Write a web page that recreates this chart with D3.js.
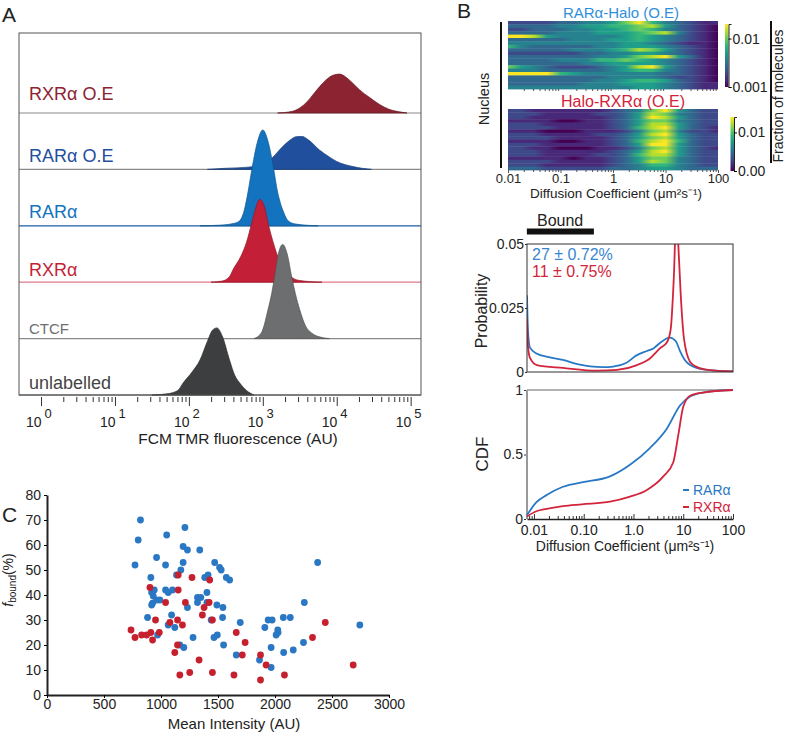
<!DOCTYPE html>
<html>
<head>
<meta charset="utf-8">
<script src="https://cdn.jsdelivr.net/npm/d3@7"></script>
<style>
  body { margin: 0; background: #fff; }
  svg { font-family: "Liberation Sans", Arial, Helvetica, sans-serif; }
</style>
</head>
<body>
<div id="chart"></div>
<script>
// ---------- Panel A: FCM histograms, points are [log10(AU), height in band units]
const fcmNames = ["RXRα O.E", "RARα O.E", "RARα", "RXRα", "CTCF", "unlabelled"];
const fcmFill = ["#8c2331", "#1f4f9d", "#1473be", "#c31f36", "#6c6e6f", "#3c3e3f"];
const fcmLine = ["#8a8a8a", "#8a8a8a", "#1a5ea8", "#e07a88", "#8a8a8a", "#555"];
const fcmLabelSize = [18, 18, 18, 18, 15, 18];
const rxrOE = [[3.2,0],[3.4,0.03],[3.5,0.09],[3.6,0.2],[3.7,0.36],[3.77,0.47],[3.85,0.58],[3.95,0.67],[4.04,0.69],[4.12,0.64],[4.2,0.55],[4.31,0.41],[4.45,0.27],[4.58,0.15],[4.7,0.07],[4.85,0.02],[4.95,0]];
const rarOE = [[2.25,0],[2.5,0.02],[2.8,0.04],[3.0,0.08],[3.14,0.22],[3.25,0.38],[3.37,0.52],[3.45,0.58],[3.53,0.585],[3.62,0.52],[3.77,0.34],[3.9,0.22],[4.0,0.14],[4.22,0.05],[4.47,0]];
const rar = [[2.15,0],[2.4,0.01],[2.6,0.04],[2.68,0.08],[2.75,0.28],[2.8,0.6],[2.86,1.06],[2.93,1.5],[3.0,1.7],[3.07,1.5],[3.14,1.06],[3.2,0.6],[3.27,0.28],[3.35,0.08],[3.45,0.03],[3.75,0]];
const rxr = [[2.3,0],[2.45,0.02],[2.55,0.1],[2.6,0.23],[2.7,0.45],[2.78,0.71],[2.85,1.05],[2.9,1.3],[2.96,1.47],[3.02,1.35],[3.08,1.0],[3.14,0.71],[3.22,0.4],[3.3,0.23],[3.4,0.08],[3.5,0.03],[3.8,0]];
const ctcf = [[2.88,0],[2.98,0.1],[3.07,0.51],[3.12,0.8],[3.16,1.1],[3.21,1.5],[3.27,1.67],[3.33,1.5],[3.39,1.1],[3.44,0.8],[3.5,0.51],[3.58,0.22],[3.66,0.1],[3.8,0.02],[3.9,0]];
const unlabelled = [[1.5,0],[1.7,0.02],[1.85,0.08],[1.92,0.21],[2.05,0.42],[2.15,0.62],[2.25,0.95],[2.32,1.15],[2.38,1.19],[2.45,1.05],[2.55,0.62],[2.62,0.35],[2.69,0.21],[2.78,0.08],[2.88,0]];
const fcmSeries = [rxrOE, rarOE, rar, rxr, ctcf, unlabelled];
const fcmDecades = [0, 1, 2, 3, 4, 5];

// ---------- Panel B: heatmaps (colour level 0-9 at each log10 D column)
const heatLogD = [-2,-1.75,-1.5,-1.25,-1,-0.75,-0.5,-0.25,0,0.25,0.5,0.75,1,1.25,1.5,1.75,2];
const heatRAR = [
  [2,2,2,2,3,3,4,4,5,7,9,6,4,3,2,1,1],
  [3,3,3,3,4,4,5,5,6,6,7,8,5,3,2,1,0],
  [2,2,3,3,3,4,4,5,5,6,7,6,4,3,2,1,0],
  [3,3,3,3,4,4,4,5,5,5,6,7,8,4,2,1,0],
  [9,9,8,5,4,4,4,4,4,5,6,5,4,3,2,1,0],
  [3,3,3,3,3,4,4,4,5,5,6,5,4,3,2,1,0],
  [4,4,4,4,4,4,4,4,4,5,5,4,3,2,1,1,0],
  [6,4,3,3,3,3,3,4,4,5,5,5,4,3,2,1,0],
  [3,3,3,3,3,4,4,4,5,6,8,7,5,3,2,1,0],
  [2,2,2,2,2,2,3,3,4,4,5,5,4,3,2,1,0],
  [3,3,3,3,3,3,3,4,4,5,7,8,9,5,3,1,0],
  [3,3,3,3,4,4,4,6,6,7,6,5,4,3,2,1,0],
  [3,3,3,3,3,3,4,4,5,5,5,5,4,3,2,1,0],
  [7,5,4,3,2,2,2,3,4,5,8,9,5,3,2,1,0],
  [4,4,4,3,3,3,3,3,4,5,6,6,4,3,2,1,0],
  [9,9,9,9,6,5,4,4,4,4,4,4,3,3,2,1,0],
  [3,3,3,3,3,3,3,3,4,4,4,4,3,2,2,1,0],
  [3,3,3,3,3,3,3,4,4,5,6,6,5,3,2,1,0],
  [3,3,3,3,3,3,4,4,4,5,5,5,4,3,2,1,1],
  [4,4,4,4,4,4,4,4,4,4,5,5,4,3,2,1,1]
];
const heatRXR = [
  [2,2,1,1,1,1,1,1,2,3,4,7,9,5,3,2,2],
  [2,2,2,1,1,1,1,2,2,3,5,8,7,4,3,2,2],
  [2,2,1,1,1,1,1,1,2,3,5,9,8,5,3,2,2],
  [1,1,1,1,0,0,1,1,2,3,5,7,7,4,3,2,2],
  [2,2,2,1,1,1,1,1,2,3,5,8,8,5,3,2,2],
  [2,2,2,2,1,1,1,1,2,3,6,8,9,5,3,2,1],
  [1,1,1,0,0,0,1,1,1,2,4,7,8,4,2,2,1],
  [2,2,2,1,1,1,1,2,2,3,5,8,9,5,3,2,2],
  [2,2,2,2,1,1,1,1,2,3,5,7,8,5,3,2,2],
  [1,1,1,1,0,0,1,1,2,3,6,8,9,6,3,2,2],
  [2,2,2,1,1,1,1,1,2,3,5,9,9,5,3,2,2],
  [2,2,1,1,0,0,0,1,1,2,4,7,8,5,3,2,1],
  [2,2,2,1,1,1,1,1,2,3,5,8,9,5,3,2,2],
  [2,2,2,1,1,1,1,2,2,3,6,8,8,5,3,2,2],
  [1,1,1,1,1,0,1,1,2,3,5,7,7,4,3,2,2],
  [2,2,2,2,1,1,1,1,2,3,5,8,7,4,3,2,2],
  [2,2,2,1,1,1,1,1,2,3,4,6,6,4,3,2,2],
  [3,3,3,2,2,2,2,2,3,3,4,5,5,4,3,3,3]
];
const heatTicks = [0.01, 0.1, 1, 10, 100];

// ---------- Panel B: probability and CDF, points are [log10 D, value]
const probRAR = [[-2.14,0.030],[-2.12,0.016],[-2.08,0.0095],[-1.95,0.0072],[-1.7,0.0058],[-1.42,0.0047],[-1.1,0.003],[-0.87,0.0022],[-0.6,0.0019],[-0.41,0.0021],[-0.15,0.0035],[0.06,0.0065],[0.27,0.0082],[0.4,0.0092],[0.53,0.0113],[0.73,0.0134],[0.85,0.012],[0.94,0.008],[1.04,0.0045],[1.14,0.0027],[1.4,0.001],[2,0.0002]];
const probRXR = [[-2.14,0.021],[-2.12,0.01],[-2.08,0.0055],[-1.94,0.0027],[-1.42,0.0016],[-0.73,0.0005],[-0.33,0.0008],[0.07,0.0027],[0.33,0.0053],[0.53,0.0092],[0.68,0.0118],[0.75,0.017],[0.81,0.0366],[0.868,0.065],[0.9,0.05],[0.95,0.03],[1.015,0.013],[1.136,0.004],[1.27,0.002],[1.5,0.0008],[2,0.0002]];
const cdfRAR = [[-2.14,0.03],[-1.95,0.13],[-1.744,0.186],[-1.417,0.25],[-1.04,0.284],[-0.472,0.33],[-0.07,0.42],[0.33,0.55],[0.67,0.70],[0.935,0.88],[1.136,0.95],[1.47,0.985],[2,1.0]];
const cdfRXR = [[-2.14,0.02],[-1.95,0.06],[-1.744,0.078],[-1.417,0.10],[-1.04,0.114],[-0.472,0.134],[-0.07,0.173],[0.27,0.225],[0.6,0.33],[0.8,0.44],[0.9,0.65],[1.0,0.87],[1.14,0.955],[1.4,0.98],[2,1.0]];
const boundRange = [0.0072, 0.16];
const cdfTicks = [0.01, 0.1, 1, 10, 100];
const cdfTickLabels = ["0.01", "0.10", "1.0", "10", "100"];

// ---------- Panel C: scatter (mean intensity AU, f_bound %)
const rarIntensity = [820,800,1210,1050,1194,1232,1340,772,961,1040,1194,1174,1471,1514,1528,2374,1136,1384,1413,1573,1602,911,918,941,1040,1063,1101,1403,932,961,926,918,990,1232,1320,1349,1320,1403,1490,1543,2257,882,1093,1063,1121,1440,1540,1695,1940,1975,2073,2134,1911,2024,2027,2010,2744,970,1281,1465,1494,1165,1200,1549,2250,1966,2076,2160,1660,1864,1966];
const rarBound =     [70,62,67,64,59.4,58,58,52,55,52,53,50,53,51,50,53,48,47,48,47,46,47,41,42,42,41,42,41,39.6,38,36.7,36,38,35,39,39,37,37,36,35,37,31,32,28,27,30,31,29,30,30,31,31,27,26,25,24,28,24,23,23,24,20,19,20,21,19,17,18,16,14,11];
const rxrIntensity = [1151,1272,1427,903,1151,1040,1214,1378,1422,952,1078,1145,1188,1363,1451,2441,737,772,830,874,911,926,985,1145,1121,1660,1738,2329,1713,1873,1922,1334,1165,1252,1451,1640,1873,2083,2686];
const rxrBound =     [48,47,46,43,42,37,37,35,37,30,29,30,28,32,30,29,26,23,24,24,25,22,25,20,17,25,21,23,16,16,12,14,8,9,9,8,6,8,12];

// ---------- setup
const W = 785, H = 733;
const svg = d3.select("#chart").append("svg").attr("width", W).attr("height", H);
const defs = svg.append("defs");
const txt = (x, y, s, size, opts = {}) => svg.append("text")
  .attr("x", x).attr("y", y).attr("font-size", size)
  .attr("fill", opts.fill || "#222").attr("text-anchor", opts.anchor || "start").text(s);
const styleTicks = g => g.selectAll("text").attr("font-size", 14).attr("fill", "#222").attr("font-family", null);

// ================= Panel A =================
txt(2, 22, "A", 21);
const aX = d3.scaleLog().domain([Math.pow(10, -0.298), Math.pow(10, 5.14)]).range([19, 421]);
const aBase = d3.scalePoint().domain(fcmNames).range([113, 395]);
const aH = d3.scaleLinear().domain([0, 1]).range([0, 56.4]);

fcmNames.forEach((name, i) => {
  const base = aBase(name);
  svg.append("line").attr("x1", 19).attr("x2", 421).attr("y1", base).attr("y2", base)
    .attr("stroke", fcmLine[i]).attr("stroke-width", 1.2);
  const area = d3.area()
    .x(d => aX(Math.pow(10, d[0])))
    .y0(base)
    .y1(d => base - aH(d[1]))
    .curve(d3.curveMonotoneX);
  svg.append("path").datum(fcmSeries[i]).attr("d", area)
    .attr("fill", fcmFill[i]).attr("stroke", d3.color(fcmFill[i]).darker(0.8)).attr("stroke-width", 0.7);
});

const labelY = [100, 162, 218, 276, 334, 389];
fcmNames.forEach((name, i) => {
  txt(29, labelY[i], name, fcmLabelSize[i], { fill: i === 4 ? "#6d6e70" : (i === 5 ? "#444" : fcmFill[i]) });
});

svg.append("rect").attr("x", 19).attr("y", 33).attr("width", 402).attr("height", 362)
  .attr("fill", "none").attr("stroke", "#555").attr("stroke-width", 1);

const aMinor = [];
fcmDecades.forEach(k => d3.range(2, 10).forEach(m => { const v = m * Math.pow(10, k); if (v < aX.domain()[1]) aMinor.push(v); }));
svg.append("g").attr("transform", "translate(0,397)")
  .call(d3.axisBottom(aX).tickValues(aMinor).tickSize(5).tickFormat(""))
  .call(g => g.select(".domain").remove())
  .call(g => g.selectAll("line").attr("stroke", "#333"));
svg.append("g").attr("transform", "translate(0,397)")
  .call(d3.axisBottom(aX).tickValues(fcmDecades.map(k => Math.pow(10, k))).tickSize(9).tickFormat(""))
  .call(g => g.select(".domain").remove())
  .call(g => g.selectAll("line").attr("stroke", "#333"));
fcmDecades.forEach(k => {
  const t = svg.append("text").attr("x", aX(Math.pow(10, k)) - 15).attr("y", 427)
    .attr("font-size", 14).attr("fill", "#222").text("10");
  t.append("tspan").attr("dx", 3).attr("dy", -9).attr("font-size", 13).text(k);
});
txt(238, 444, "FCM TMR fluorescence (AU)", 15.5, { anchor: "middle" });

// ================= Panel B: heatmaps =================
txt(457, 18, "B", 21);
const hmX = d3.scaleLog().domain([0.01, 100]).range([508, 718]);
const viridis = d3.scaleSequential(d3.interpolateViridis).domain([0, 9]);

function heatmap(data, y0, y1, id) {
  const rowY = d3.scaleBand().domain(d3.range(data.length)).range([y0, y1]);
  const w = hmX.range()[1] - hmX.range()[0];
  data.forEach((row, r) => {
    const g = defs.append("linearGradient").attr("id", id + r);
    row.forEach((lv, j) => {
      g.append("stop").attr("offset", (hmX(Math.pow(10, heatLogD[j])) - hmX.range()[0]) / w)
        .attr("stop-color", viridis(lv));
    });
    svg.append("rect").attr("x", hmX.range()[0]).attr("y", rowY(r))
      .attr("width", w).attr("height", rowY.bandwidth() + 0.4)
      .attr("fill", `url(#${id + r})`);
  });
}
heatmap(heatRAR, 21, 89, "hr");
heatmap(heatRXR, 109, 170, "hx");

txt(621, 18, "RARα-Halo (O.E)", 15, { anchor: "middle", fill: "#2f8fda" });
txt(623, 107, "Halo-RXRα (O.E)", 16, { anchor: "middle", fill: "#d5213b" });

const hmMinor = [];
[0.01, 0.1, 1, 10].forEach(b => d3.range(2, 10).forEach(m => hmMinor.push(m * b)));
[89, 170].forEach(yy => {
  svg.append("g").attr("transform", `translate(0,${yy})`)
    .call(d3.axisBottom(hmX).tickValues(hmMinor).tickSize(2).tickFormat(""))
    .call(g => g.select(".domain").remove())
    .call(g => g.selectAll("line").attr("stroke", "#555"));
});
svg.append("g").attr("transform", "translate(0,170)")
  .call(d3.axisBottom(hmX).tickValues(heatTicks).tickSize(3).tickPadding(1).tickFormat(d3.format("~g")))
  .call(g => g.select(".domain").remove())
  .call(g => g.selectAll("line").attr("stroke", "#555"))
  .call(styleTicks)
  .call(g => g.selectAll("text").attr("font-size", 13));
txt(616, 198, "Diffusion Coefficient (μm²s⁻¹)", 13.5, { anchor: "middle" });

// nucleus bar
svg.append("line").attr("x1", 501).attr("x2", 501).attr("y1", 22).attr("y2", 168).attr("stroke", "#111").attr("stroke-width", 2);
svg.append("text").attr("transform", "translate(489,99) rotate(-90)").attr("text-anchor", "middle")
  .attr("font-size", 14.5).attr("fill", "#222").text("Nucleus");

// colour bars
const cbGrad = defs.append("linearGradient").attr("id", "cbg").attr("x1", 0).attr("x2", 0).attr("y1", 1).attr("y2", 0);
d3.range(0, 10).forEach(l => cbGrad.append("stop").attr("offset", l / 9).attr("stop-color", viridis(l)));
const cb1 = d3.scaleLog().domain([0.001, 0.02]).range([87, 24]);
const cb2 = d3.scaleLinear().domain([0, 0.014]).range([171, 117]);
svg.append("rect").attr("x", 725).attr("y", 24).attr("width", 3.5).attr("height", 63).attr("fill", "url(#cbg)");
svg.append("rect").attr("x", 730.5).attr("y", 117).attr("width", 3.5).attr("height", 54).attr("fill", "url(#cbg)");
svg.append("g").attr("transform", "translate(728.5,0)")
  .call(d3.axisRight(cb1).tickValues([0.001, 0.01]).tickSize(3).tickPadding(1).tickFormat(d3.format("~g")))
  .call(g => g.select(".domain").attr("stroke", "#222"))
  .call(styleTicks);
svg.append("g").attr("transform", "translate(734,0)")
  .call(d3.axisRight(cb2).tickValues([0, 0.01]).tickSize(3).tickPadding(1).tickFormat(d3.format(".2f")))
  .call(g => g.select(".domain").attr("stroke", "#222"))
  .call(styleTicks);

svg.append("line").attr("x1", 771).attr("x2", 771).attr("y1", 21).attr("y2", 163).attr("stroke", "#111").attr("stroke-width", 2);
svg.append("text").attr("transform", "translate(783,96) rotate(-90)").attr("text-anchor", "middle")
  .attr("font-size", 14).attr("fill", "#222").text("Fraction of molecules");

// ================= Panel B: probability =================
const dX = d3.scaleLog().domain([Math.pow(10, -2.14), 100]).range([527, 733]);
const pY = d3.scaleLinear().domain([0, 0.05]).range([372, 244]);
const blue = "#2878c5", red = "#d2253b";

txt(537, 226, "Bound", 16);
svg.append("rect").attr("x", dX(boundRange[0])).attr("y", 228.5)
  .attr("width", dX(boundRange[1]) - dX(boundRange[0])).attr("height", 6).attr("fill", "#111");

defs.append("clipPath").attr("id", "pclip").append("rect").attr("x", 527).attr("y", 244).attr("width", 206).attr("height", 128);
const pLine = d3.line().x(d => dX(Math.pow(10, d[0]))).y(d => pY(d[1])).curve(d3.curveMonotoneX);
svg.append("path").datum(probRAR).attr("d", pLine).attr("fill", "none").attr("stroke", blue).attr("stroke-width", 1.8).attr("clip-path", "url(#pclip)");
svg.append("path").datum(probRXR).attr("d", pLine).attr("fill", "none").attr("stroke", red).attr("stroke-width", 1.8).attr("clip-path", "url(#pclip)");
svg.append("rect").attr("x", 527).attr("y", 244).attr("width", 206).attr("height", 128)
  .attr("fill", "none").attr("stroke", "#333").attr("stroke-width", 1);
svg.append("g").attr("transform", "translate(527,0)")
  .call(d3.axisLeft(pY).tickValues([0, 0.025, 0.05]).tickSize(2).tickPadding(1).tickFormat(d => d === 0 ? "0" : String(d)))
  .call(g => g.select(".domain").remove())
  .call(g => g.selectAll("line").attr("stroke", "#333"))
  .call(styleTicks);
svg.append("text").attr("transform", "translate(487,311) rotate(-90)").attr("text-anchor", "middle")
  .attr("font-size", 16).attr("fill", "#222").text("Probability");
txt(532, 260, "27 ± 0.72%", 16, { fill: "#3a86cf" });
txt(532, 277, "11 ± 0.75%", 16, { fill: red });

// ================= Panel B: CDF =================
const cY = d3.scaleLinear().domain([0, 1]).range([519, 390]);
svg.append("line").attr("x1", 527).attr("x2", 733).attr("y1", 390).attr("y2", 390).attr("stroke", "#999").attr("stroke-width", 1.5);
svg.append("line").attr("x1", 527).attr("x2", 527).attr("y1", 390).attr("y2", 519).attr("stroke", "#999").attr("stroke-width", 2);
const cLine = d3.line().x(d => dX(Math.pow(10, d[0]))).y(d => cY(d[1])).curve(d3.curveMonotoneX);
svg.append("path").datum(cdfRAR).attr("d", cLine).attr("fill", "none").attr("stroke", blue).attr("stroke-width", 1.8);
svg.append("path").datum(cdfRXR).attr("d", cLine).attr("fill", "none").attr("stroke", red).attr("stroke-width", 1.8);

const cMinor = [0.008, 0.009];
[0.01, 0.1, 1, 10].forEach(b => d3.range(2, 10).forEach(m => cMinor.push(m * b)));
svg.append("g").attr("transform", "translate(0,519)")
  .call(d3.axisBottom(dX).tickValues(cMinor).tickSize(-3).tickFormat(""))
  .call(g => g.select(".domain").remove())
  .call(g => g.selectAll("line").attr("stroke", "#333"));
svg.append("g").attr("transform", "translate(0,519)")
  .call(d3.axisBottom(dX).tickValues(cdfTicks).tickSize(-5).tickSizeOuter(0).tickPadding(6)
    .tickFormat((d, i) => cdfTickLabels[i]))
  .call(g => g.select(".domain").attr("stroke", "#222").attr("stroke-width", 1.5))
  .call(g => g.selectAll("line").attr("stroke", "#333"))
  .call(styleTicks);
svg.append("g").attr("transform", "translate(526,0)")
  .call(d3.axisLeft(cY).tickValues([0, 0.5, 1]).tickSize(2).tickPadding(1).tickFormat(d3.format("~g")))
  .call(g => g.select(".domain").remove())
  .call(g => g.selectAll("line").attr("stroke", "#333"))
  .call(styleTicks);
svg.append("text").attr("transform", "translate(488,454) rotate(-90)").attr("text-anchor", "middle")
  .attr("font-size", 17).attr("fill", "#222").text("CDF");
txt(625, 551, "Diffusion Coefficient (μm²s⁻¹)", 14, { anchor: "middle" });

// legend
[["RARα", blue, 495], ["RXRα", red, 512]].forEach(([lab, col, y]) => {
  svg.append("line").attr("x1", 683).attr("x2", 689).attr("y1", y - 5).attr("y2", y - 5).attr("stroke", col).attr("stroke-width", 2);
  txt(693, y, lab, 14, { fill: col });
});

// ================= Panel C =================
txt(2, 522, "C", 21);
const sX = d3.scaleLinear().domain([0, 3000]).range([47, 389]);
const sY = d3.scaleLinear().domain([0, 80]).range([695, 495]);
svg.append("g").attr("transform", "translate(47,0)")
  .call(d3.axisLeft(sY).tickValues(d3.range(0, 81, 10)).tickSize(3).tickPadding(3).tickSizeOuter(0))
  .call(g => g.select(".domain").attr("stroke", "#222").attr("stroke-width", 2))
  .call(styleTicks);
svg.append("g").attr("transform", "translate(0,695)")
  .call(d3.axisBottom(sX).tickValues(d3.range(0, 3001, 500)).tickSize(3).tickPadding(1).tickSizeOuter(0).tickFormat(d3.format("d")))
  .call(g => g.select(".domain").attr("stroke", "#222").attr("stroke-width", 2))
  .call(styleTicks);

svg.append("g").selectAll("circle").data(rarIntensity).enter().append("circle")
  .attr("cx", d => sX(d)).attr("cy", (d, i) => sY(rarBound[i])).attr("r", 3.4).attr("fill", "#2a77c4");
svg.append("g").selectAll("circle").data(rxrIntensity).enter().append("circle")
  .attr("cx", d => sX(d)).attr("cy", (d, i) => sY(rxrBound[i])).attr("r", 3.4).attr("fill", "#c6202e");

const yl = svg.append("text").attr("transform", "translate(13,580) rotate(-90)").attr("text-anchor", "middle")
  .attr("font-size", 14).attr("fill", "#222");
yl.append("tspan").attr("font-style", "italic").text("f");
yl.append("tspan").attr("font-size", 10).attr("dy", 3).text("bound");
yl.append("tspan").attr("dy", -3).text("(%)");
txt(234, 729, "Mean Intensity (AU)", 15, { anchor: "middle" });
</script>
</body>
</html>
